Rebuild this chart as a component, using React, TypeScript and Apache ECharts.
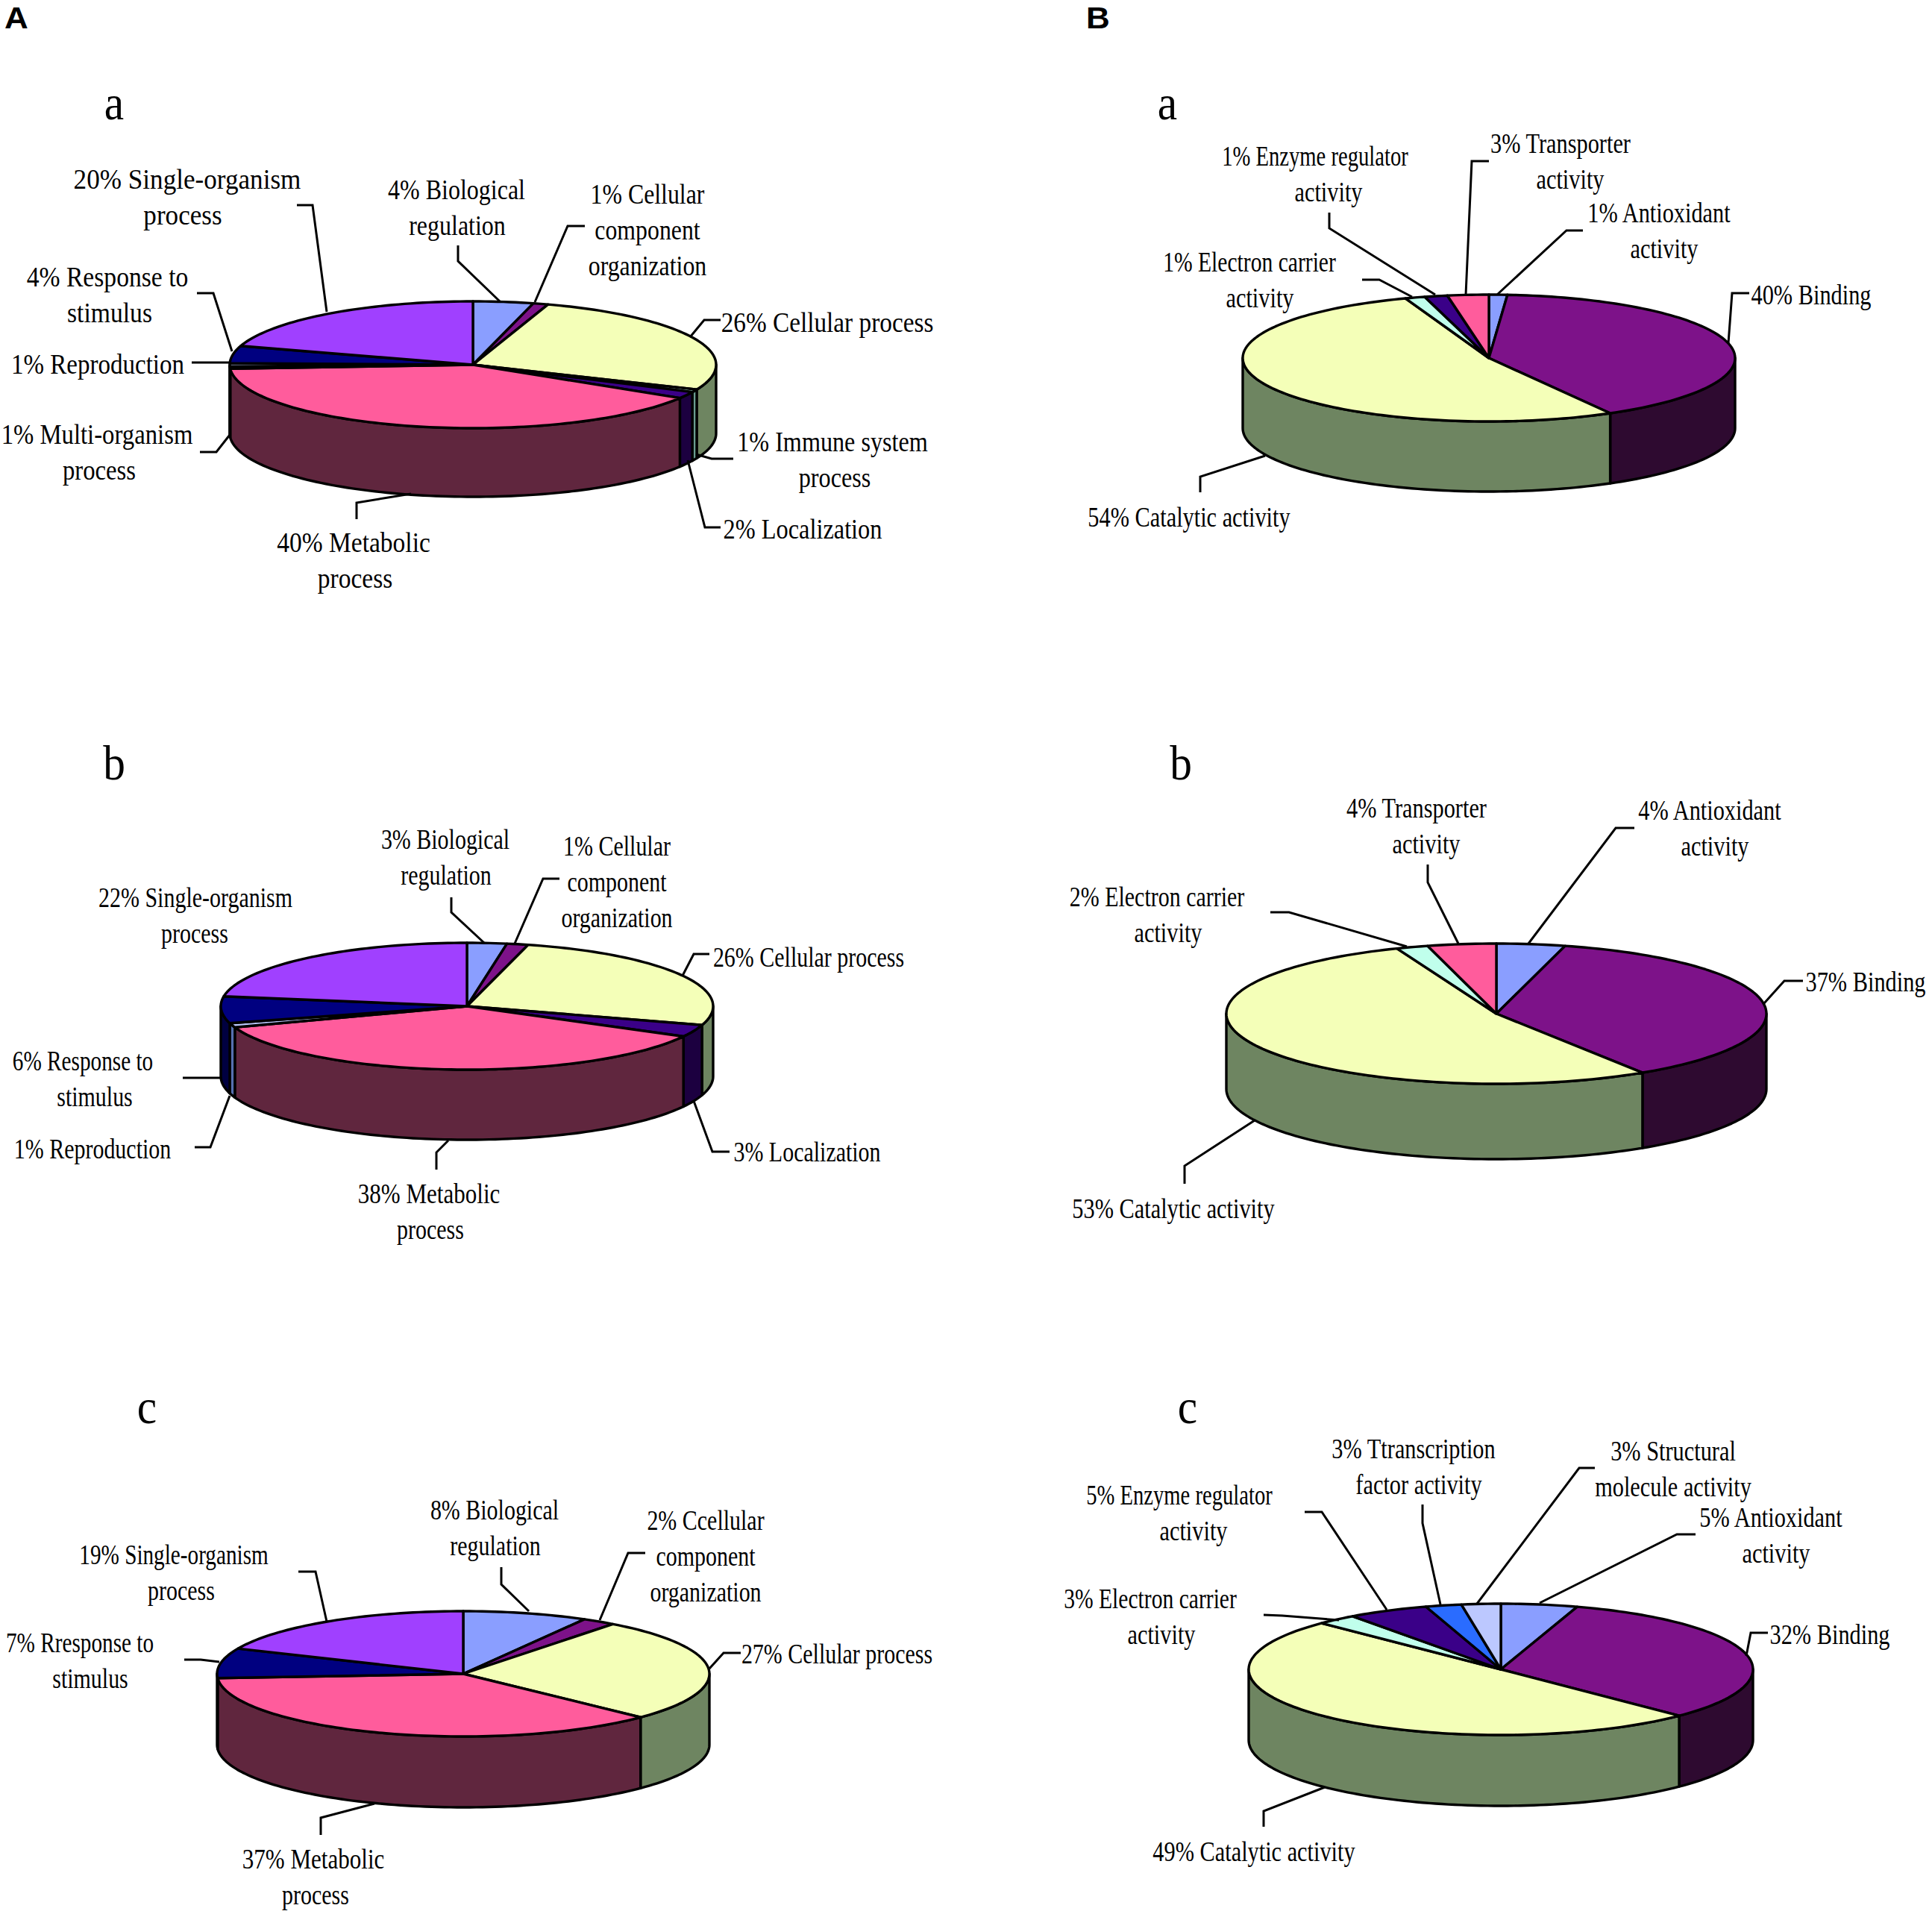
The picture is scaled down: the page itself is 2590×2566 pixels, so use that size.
import React, { useEffect, useRef } from "react";
import * as echarts from "echarts";

// ---------- data: shares, printed labels verbatim ----------
const aaValues = [4, 1, 26.4, 0.7, 1.7, 40.2, 0.6, 0.8, 4.4, 20.2];
const aaLabels = ["4% Biological\nregulation", "1% Cellular\ncomponent\norganization", "26% Cellular process", "1% Immune system\nprocess", "2% Localization", "40% Metabolic\nprocess", "1% Multi-organism\nprocess", "1% Reproduction", "4% Response to\nstimulus", "20% Single-organism\nprocess"];

const abValues = [2.6, 1.4, 25.8, 3.1, 36.7, 1.1, 6.8, 22.5];
const abLabels = ["3% Biological\nregulation", "1% Cellular\ncomponent\norganization", "26% Cellular process", "3% Localization", "38% Metabolic\nprocess", "1% Reproduction", "6% Response to\nstimulus", "22% Single-organism\nprocess"];

const acValues = [8.2, 2.2, 26.8, 36.7, 7.7, 18.4];
const acLabels = ["8% Biological\nregulation", "2% Ccellular\ncomponent\norganization", "27% Cellular process", "37% Metabolic\nprocess", "7% Rresponse to\nstimulus", "19% Single-organism\nprocess"];

const baValues = [1.2, 40.6, 52.7, 1.3, 1.5, 2.7];
const baLabels = ["1% Antioxidant\nactivity", "40% Binding", "54% Catalytic activity", "1% Electron carrier\nactivity", "1% Enzyme regulator\nactivity", "3% Transporter\nactivity"];

const bbValues = [4.1, 36.8, 53.1, 1.9, 4.1];
const bbLabels = ["4% Antioxidant\nactivity", "37% Binding", "53% Catalytic activity", "2% Electron carrier\nactivity", "4% Transporter\nactivity"];

const bcValues = [4.9, 32.6, 49.9, 2.6, 5.2, 2.3, 2.5];
const bcLabels = ["5% Antioxidant\nactivity", "32% Binding", "49% Catalytic activity", "3% Electron carrier\nactivity", "5% Enzyme regulator\nactivity", "3% Ttranscription\nfactor activity", "3% Structural\nmolecule activity"];

// ---------- styles ----------
const PERI = ["#8A9EFF", "#4E5F9C"];
const PURPLE = ["#7D1289", "#2E0A30"];
const YELLOW = ["#F4FFB8", "#6E8561"];
const CYAN = ["#C0FFEC", "#6A9C90"];
const INDIGO = ["#3A0088", "#1C0040"];
const PINK = ["#FF5C9C", "#60263E"];
const BLUE = ["#2A6CFF", "#163A88"];
const LAV = ["#BCC8FF", "#5670B0"];
const NAVY = ["#000080", "#000040"];
const VIOLET = ["#A040FF", "#4A1E78"];

const aaColors = [PERI, PURPLE, YELLOW, CYAN, INDIGO, PINK, BLUE, LAV, NAVY, VIOLET];
const abColors = [PERI, PURPLE, YELLOW, INDIGO, PINK, LAV, NAVY, VIOLET];
const acColors = [PERI, PURPLE, YELLOW, PINK, NAVY, VIOLET];
const baColors = [PERI, PURPLE, YELLOW, CYAN, INDIGO, PINK];
const bbColors = [PERI, PURPLE, YELLOW, CYAN, PINK];
const bcColors = [PERI, PURPLE, YELLOW, CYAN, INDIGO, BLUE, LAV];

// ---------- layout (pixels): centre of a label's first line, then the extra x of its later lines ----------
type P = [number, number];
const aaLabelPos: P[] = [[612, 253], [868, 259], [1109, 431], [1116, 591], [1076, 708], [474, 726], [130, 581], [131, 487], [144, 370], [251, 239]];
const abLabelPos: P[] = [[597, 1124], [827, 1133], [1084, 1282], [1082, 1543], [575, 1599], [124, 1539], [111, 1421], [262, 1202]];
const acLabelPos: P[] = [[663, 2023], [946, 2037], [1122, 2216], [420, 2491], [107, 2201], [233, 2083]];
const baLabelPos: P[] = [[2224, 284], [2428, 394], [1594, 692], [1675, 350], [1763, 208], [2092, 191]];
const bbLabelPos: P[] = [[2292, 1085], [2501, 1315], [1573, 1619], [1551, 1201], [1899, 1082]];
const bcLabelPos: P[] = [[2374, 2033], [2453, 2190], [1681, 2481], [1542, 2142], [1581, 2003], [1895, 1941], [2243, 1944]];
const LABEL_NUDGE_Y = 1.5;

const aaLineDx = [1, 0, 0, 3, 0, 2, 3, 0, 3, -6];
const abLineDx = [1, 0, 0, 0, 2, 0, 16, -1];
const acLineDx = [1, 0, 0, 3, 14, 10];
const baLineDx = [7, 0, 0, 14, 18, 13];
const bbLineDx = [7, 0, 0, 15, 13];
const bcLineDx = [7, 0, 0, 15, 19, 7, 0];

// horizontal squeeze of each label's first line; later lines use the panel's restSqueeze when it has one
const aaSqueeze = [0.865, 0.86, 0.9, 0.87, 0.875, 0.906, 0.885, 0.893, 0.909, 0.95];
const abSqueeze = [0.81, 0.81, 0.81, 0.81, 0.84, 0.81, 0.79, 0.81];
const acSqueeze = [0.81, 0.81, 0.81, 0.84, 0.79, 0.79];
const baSqueeze = [0.82, 0.82, 0.82, 0.8, 0.774, 0.82];
const bbSqueeze = [0.82, 0.82, 0.82, 0.81, 0.82];
const bcSqueeze = [0.82, 0.82, 0.82, 0.8, 0.774, 0.82, 0.82];

const aaLeaders: P[][] = [
  [[614, 329], [614, 350], [670, 404]], [[784, 303], [761, 303], [717, 405]], [[966, 429], [944, 429], [925, 452]],
  [[983, 615], [954, 615], [933, 609]], [[966, 707], [945, 707], [922, 617]], [[478, 696], [478, 674], [551, 662]],
  [[268, 606], [290, 606], [308, 583]], [[257, 486], [308, 486]], [[264, 393], [286, 393], [311, 471]], [[398, 275], [419, 275], [438, 418]],
];
const abLeaders: P[][] = [
  [[605, 1203], [605, 1223], [649, 1264]], [[750, 1178], [728, 1178], [690, 1265]], [[951, 1279], [930, 1279], [915, 1308]],
  [[978, 1544], [955, 1544], [930, 1476]], [[585, 1568], [585, 1545], [601, 1529]], [[261, 1538], [282, 1538], [308, 1469]], [[245, 1445], [296, 1445]],
];
const acLeaders: P[][] = [
  [[672, 2101], [672, 2124], [709, 2160]], [[865, 2082], [842, 2082], [804, 2172]], [[993, 2216], [970, 2216], [951, 2237]],
  [[430, 2460], [430, 2437], [502, 2418]], [[247, 2225], [269, 2225], [294, 2228]], [[400, 2107], [423, 2107], [438, 2174]],
];
const baLeaders: P[][] = [
  [[2122, 309], [2100, 309], [2007, 395]], [[2345, 393], [2322, 393], [2317, 460]], [[1609, 660], [1609, 639], [1696, 611]],
  [[1826, 375], [1849, 375], [1893, 398]], [[1782, 285], [1782, 306], [1924, 395]], [[1996, 216], [1973, 216], [1965, 395]],
];
const bbLeaders: P[][] = [
  [[2191, 1110], [2166, 1110], [2049, 1265]], [[2417, 1315], [2392, 1315], [2365, 1345]], [[1588, 1587], [1588, 1563], [1682, 1502]],
  [[1703, 1223], [1728, 1223], [1886, 1269]], [[1914, 1159], [1914, 1183], [1955, 1265]],
];
const bcLeaders: P[][] = [
  [[2273, 2057], [2248, 2057], [2064, 2149]], [[2370, 2189], [2347, 2189], [2341, 2220]], [[1694, 2449], [1694, 2428], [1776, 2396]],
  [[1694, 2165], [1719, 2166], [1795, 2172]], [[1749, 2027], [1772, 2027], [1859, 2158]], [[1907, 2017], [1907, 2042], [1931, 2151]], [[2138, 1968], [2117, 1968], [1980, 2150]],
];

const panels = [
  { id: "Aa", values: aaValues, labels: aaLabels, colors: aaColors, labelPos: aaLabelPos, lineDx: aaLineDx, squeeze: aaSqueeze, restSqueeze: 0, leaders: aaLeaders, cx: 634, cy: 489, rx: 326, ry: 85, depth: 92, letter: "a", letterPos: [153, 138] as P },
  { id: "Ab", values: abValues, labels: abLabels, colors: abColors, labelPos: abLabelPos, lineDx: abLineDx, squeeze: abSqueeze, restSqueeze: 0.81, leaders: abLeaders, cx: 626, cy: 1349, rx: 330, ry: 85, depth: 94, letter: "b", letterPos: [153, 1023] as P },
  { id: "Ac", values: acValues, labels: acLabels, colors: acColors, labelPos: acLabelPos, lineDx: acLineDx, squeeze: acSqueeze, restSqueeze: 0.81, leaders: acLeaders, cx: 621, cy: 2244, rx: 330, ry: 84, depth: 95, letter: "c", letterPos: [197, 1886] as P },
  { id: "Ba", values: baValues, labels: baLabels, colors: baColors, labelPos: baLabelPos, lineDx: baLineDx, squeeze: baSqueeze, restSqueeze: 0.82, leaders: baLeaders, cx: 1996, cy: 480, rx: 330, ry: 85, depth: 94, letter: "a", letterPos: [1565, 138] as P },
  { id: "Bb", values: bbValues, labels: bbLabels, colors: bbColors, labelPos: bbLabelPos, lineDx: bbLineDx, squeeze: bbSqueeze, restSqueeze: 0.82, leaders: bbLeaders, cx: 2006, cy: 1359, rx: 362, ry: 94, depth: 101, letter: "b", letterPos: [1583, 1023] as P },
  { id: "Bc", values: bcValues, labels: bcLabels, colors: bcColors, labelPos: bcLabelPos, lineDx: bcLineDx, squeeze: bcSqueeze, restSqueeze: 0.82, leaders: bcLeaders, cx: 2012, cy: 2238, rx: 338, ry: 88, depth: 95, letter: "c", letterPos: [1592, 1886] as P },
];

const SERIF = '"Liberation Serif", "Times New Roman", serif';
const SANS = '"Liberation Sans", Arial, sans-serif';
const EDGE = "#000000";
const LINE_PITCH = 48;

function arc(p: any, from: number, to: number, dy = 0): number[][] {
  const pts: number[][] = [];
  const steps = Math.max(2, Math.ceil(Math.abs(to - from) / 1.5));
  for (let i = 0; i <= steps; i++) {
    const t = ((from + ((to - from) * i) / steps) * Math.PI) / 180;
    pts.push([p.cx + p.rx * Math.sin(t), p.cy - p.ry * Math.cos(t) + dy]);
  }
  return pts;
}

function pieSeries(p: any) {
  const total = p.values.reduce((a: number, b: number) => a + b, 0);
  const starts: number[] = [];
  let run = 0;
  p.values.forEach((v: number) => {
    starts.push(run);
    run += v;
  });
  return {
    type: "custom",
    name: p.id,
    coordinateSystem: "none",
    silent: true,
    clip: false,
    data: p.values.map((v: number, i: number) => ({ value: v, name: p.labels[i] })),
    renderItem: (params: any, api: any) => {
      const i = params.dataIndex;
      const a0 = (starts[i] / total) * 360;
      const a1 = a0 + (api.value(0) / total) * 360;
      const [top, side] = p.colors[i];
      const children: any[] = [];
      const s0 = Math.max(a0, 90);
      const s1 = Math.min(a1, 270);
      if (s1 > s0) {
        children.push({
          type: "polygon",
          shape: { points: [...arc(p, s0, s1), ...arc(p, s0, s1, p.depth).reverse()] },
          style: { fill: side, stroke: EDGE, lineWidth: 3.4, lineJoin: "round" },
        });
      }
      children.push({
        type: "polygon",
        shape: { points: [[p.cx, p.cy], ...arc(p, a0, a1)] },
        style: { fill: top, stroke: EDGE, lineWidth: 3.4, lineJoin: "round" },
      });
      return { type: "group", children };
    },
  };
}

function panelGraphics(p: any) {
  const out: any[] = [];
  p.leaders.forEach((pts: P[]) => {
    out.push({
      type: "polyline",
      shape: { points: pts },
      style: { fill: "none", stroke: EDGE, lineWidth: 3 },
      z: 10,
    });
  });
  p.labels.forEach((label: string, i: number) => {
    label.split("\n").forEach((text, k) => {
      out.push({
        type: "text",
        x: p.labelPos[i][0] + (k > 0 ? p.lineDx[i] : 0),
        y: p.labelPos[i][1] + LABEL_NUDGE_Y + k * LINE_PITCH,
        scaleX: k > 0 && p.restSqueeze ? p.restSqueeze : p.squeeze[i],
        z: 11,
        style: {
          text,
          font: `37px ${SERIF}`,
          fill: "#000000",
          textAlign: "center",
          textVerticalAlign: "middle",
        },
      });
    });
  });
  out.push({
    type: "text",
    x: p.letterPos[0],
    y: p.letterPos[1],
    scaleX: 0.9,
    z: 11,
    style: { text: p.letter, font: `66px ${SERIF}`, fill: "#000000", textAlign: "center", textVerticalAlign: "middle" },
  });
  return out;
}

export default function App() {
  const ref = useRef<HTMLDivElement>(null);
  useEffect(() => {
    const chart = echarts.init(ref.current!, null, { renderer: "svg" });
    chart.setOption({
      animation: false,
      backgroundColor: "#ffffff",
      series: panels.map(pieSeries),
      graphic: [
        ...panels.flatMap(panelGraphics),
        { type: "text", x: 6, y: 24, scaleX: 1.1, z: 11, style: { text: "A", font: `bold 40px ${SANS}`, fill: "#000000", textVerticalAlign: "middle" } },
        { type: "text", x: 1456, y: 24, scaleX: 1.1, z: 11, style: { text: "B", font: `bold 40px ${SANS}`, fill: "#000000", textVerticalAlign: "middle" } },
      ],
    });
    return () => chart.dispose();
  }, []);
  return <div ref={ref} style={{ position: "absolute", left: 0, top: 0, width: 2590, height: 2566 }} />;
}
